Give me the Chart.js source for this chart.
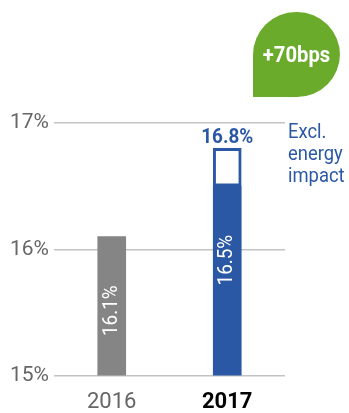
<html>
<head>
	<title>Margin</title>
	<script src="https://cdn.jsdelivr.net/npm/chart.js"></script>
	<style>body { margin: 0; background: #fff; }</style>
</head>
<body>
	<canvas id="chart" width="349" height="413"></canvas>
	<script>
		// values
		const years = ['2016', '2017'];
		const reported = [16.1, 16.5];
		const exclEnergy = [null, 16.8];
		const yTicks = [15, 16, 17];
		const badgeText = '+70bps';
		const noteLines = ['Excl.', 'energy', 'impact'];

		const FONT = "'Roboto', sans-serif";
		const BLUE = '#2b58a5';
		const GREY = '#858585';

		// narrow text by squeezing it a bit horizontally
		function narrowText(ctx, text, x, y, sx) {
			ctx.save();
			ctx.translate(x, y);
			ctx.scale(sx, 1);
			ctx.fillText(text, 0, 0);
			ctx.restore();
		}

		const extras = {
			id: 'extras',
			afterDatasetsDraw(chart) {
				const ctx = chart.ctx;
				const y = chart.scales.y;
				const bars = chart.getDatasetMeta(0).data;

				// rotated value labels inside the bars
				bars.forEach((bar, i) => {
					ctx.save();
					ctx.translate(bar.x, bar.y + 74);
					ctx.rotate(-Math.PI / 2);
					ctx.fillStyle = '#fff';
					ctx.font = '21px ' + FONT;
					ctx.textAlign = 'center';
					ctx.textBaseline = 'middle';
					narrowText(ctx, reported[i] + '%', 0, 0, 0.9);
					ctx.restore();
				});

				// excl. energy value above the outlined box
				const box = chart.getDatasetMeta(1).data[1];
				ctx.save();
				ctx.fillStyle = BLUE;
				ctx.font = 'bold 21px ' + FONT;
				ctx.textAlign = 'center';
				ctx.textBaseline = 'alphabetic';
				narrowText(ctx, exclEnergy[1] + '%', box.x, y.getPixelForValue(exclEnergy[1]) - 5, 0.9);

				ctx.font = '20px ' + FONT;
				ctx.textAlign = 'left';
				ctx.textBaseline = 'middle';
				noteLines.forEach((t, i) => narrowText(ctx, t, chart.chartArea.right + 3, 133 + i * 22, 0.92));
				ctx.restore();

				// green badge
				const l = 253, t = 12, r = 340, b = 97, rad = 43;
				ctx.save();
				ctx.fillStyle = '#6aab2c';
				ctx.beginPath();
				ctx.moveTo(l, b);
				ctx.lineTo(l, t + rad);
				ctx.arcTo(l, t, l + rad, t, rad);
				ctx.arcTo(r, t, r, t + rad, rad);
				ctx.arcTo(r, b, r - rad, b, rad);
				ctx.lineTo(l, b);
				ctx.closePath();
				ctx.fill();
				ctx.fillStyle = '#fff';
				ctx.font = 'bold 22px ' + FONT;
				ctx.textAlign = 'center';
				ctx.textBaseline = 'middle';
				narrowText(ctx, badgeText, (l + r) / 2, (t + b) / 2 + 2, 0.92);
				ctx.restore();
			}
		};

		new Chart(document.getElementById('chart'), {
			type: 'bar',
			data: {
				labels: years,
				datasets: [{
					data: reported,
					backgroundColor: [GREY, BLUE],
					barThickness: 28,
					grouped: false,
					order: 2
				}, {
					data: exclEnergy.map((v, i) => v === null ? null : [reported[i], v]),
					backgroundColor: '#fff',
					borderColor: BLUE,
					borderWidth: 3,
					borderSkipped: false,
					barThickness: 28,
					grouped: false,
					order: 1
				}]
			},
			options: {
				responsive: false,
				animation: false,
				layout: { padding: { top: 123, right: 64, left: 5, bottom: -9 } },
				plugins: { legend: { display: false }, tooltip: { enabled: false } },
				scales: {
					x: {
						grid: { display: false },
						border: { display: false },
						ticks: {
							padding: 6,
							color: c => c.index === 1 ? '#000' : '#666',
							font: c => ({ family: FONT, size: 22, weight: c.index === 1 ? 'bold' : 'normal' })
						}
					},
					y: {
						min: yTicks[0],
						max: yTicks[yTicks.length - 1],
						afterBuildTicks: s => { s.ticks = yTicks.map(v => ({ value: v })); },
						border: { display: false },
						grid: { color: '#c3c3c3', lineWidth: 1.5, drawTicks: false },
						ticks: {
							padding: 5,
							color: '#666',
							font: { family: FONT, size: 21 },
							callback: v => v + '%'
						}
					}
				}
			},
			plugins: [extras]
		});
	</script>
</body>
</html>
